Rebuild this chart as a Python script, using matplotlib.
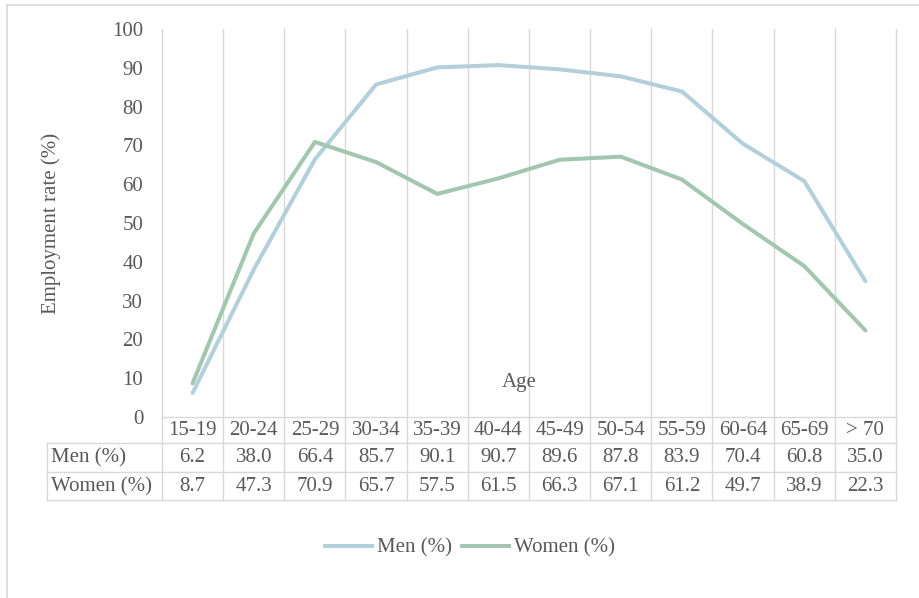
import matplotlib.pyplot as plt
from matplotlib.lines import Line2D

# Data
age_groups = ['15-19', '20-24', '25-29', '30-34', '35-39', '40-44',
              '45-49', '50-54', '55-59', '60-64', '65-69', '> 70']
men = [6.2, 38.0, 66.4, 85.7, 90.1, 90.7, 89.6, 87.8, 83.9, 70.4, 60.8, 35.0]
women = [8.7, 47.3, 70.9, 65.7, 57.5, 61.5, 66.3, 67.1, 61.2, 49.7, 38.9, 22.3]
yticks = [0, 10, 20, 30, 40, 50, 60, 70, 80, 90, 100]

men_color = '#B2CFDA'
women_color = '#A2C6AF'
grid_color = '#D9D9D9'
text_color = '#595959'
fs = 15

plt.rcParams['font.family'] = ['Liberation Serif', 'DejaVu Serif']
plt.rcParams['font.size'] = fs

W, H = 920, 598
fig = plt.figure(figsize=(W / 100, H / 100), dpi=100)

# plot area in pixels: x 162..896, y 29..417
left, right, top, bottom = 162, 896, 29, 417
ax = fig.add_axes([left / W, 1 - bottom / H, (right - left) / W, (bottom - top) / H])

x = list(range(len(age_groups)))
ax.plot(x, men, color=men_color, linewidth=2.9, solid_capstyle='round', zorder=3)
ax.plot(x, women, color=women_color, linewidth=2.9, solid_capstyle='round', zorder=3)

ax.set_xlim(-0.5, len(age_groups) - 0.5)
ax.set_ylim(0, 100)
ax.set_yticks(yticks)
ax.set_xticks([])
ax.tick_params(axis='y', length=0, pad=13.5, labelcolor=text_color, labelsize=fs)
for s in ax.spines.values():
    s.set_visible(False)


# table geometry in axes coordinates
h_px = bottom - top
def ay(py):
    return (bottom - py) / h_px

def ax_x(px):
    return (px - left) / (right - left)

ax.set_ylabel('Employment rate (%)', color=text_color, fontsize=fs, va='center')
ax.yaxis.set_label_coords(ax_x(51), 0.5)

row_lines = [443, 472, 500]
table_bottom = ay(500)
label_left = ax_x(47)

# vertical grid lines running through the table
for k in range(len(age_groups) + 1):
    ax.plot([k - 0.5, k - 0.5], [1.0, table_bottom], transform=ax.get_xaxis_transform(),
            color=grid_color, linewidth=1.0, clip_on=False, zorder=1)

# horizontal table lines
ax.plot([0, 1], [0, 0], transform=ax.transAxes, color=grid_color, linewidth=1.0,
        clip_on=False, zorder=1)
for py in row_lines:
    ax.plot([label_left, 1], [ay(py), ay(py)], transform=ax.transAxes,
            color=grid_color, linewidth=1.0, clip_on=False, zorder=1)
ax.plot([label_left, label_left], [ay(443), table_bottom], transform=ax.transAxes,
        color=grid_color, linewidth=1.0, clip_on=False, zorder=1)

tr = ax.get_xaxis_transform()
row_y = [ay(430.5), ay(458), ay(486.5)]
for i, g in enumerate(age_groups):
    ax.text(i, row_y[0], g, transform=tr, ha='center', va='center', color=text_color)
    ax.text(i, row_y[1], f'{men[i]:.1f}', transform=tr, ha='center', va='center', color=text_color)
    ax.text(i, row_y[2], f'{women[i]:.1f}', transform=tr, ha='center', va='center', color=text_color)
ax.text(ax_x(51), row_y[1], 'Men (%)', transform=ax.transAxes, ha='left', va='center', color=text_color)
ax.text(ax_x(51), row_y[2], 'Women (%)', transform=ax.transAxes, ha='left', va='center', color=text_color)

# axis title sitting inside the plot, as in the original
ax.text(ax_x(519), ay(382), 'Age', transform=ax.transAxes, ha='center', va='center',
        color=text_color, fontsize=fs)

# legend
handles = [Line2D([], [], color=men_color, linewidth=2.9),
           Line2D([], [], color=women_color, linewidth=2.9)]
fig.legend(handles, ['Men (%)', 'Women (%)'], loc='center', bbox_to_anchor=(470 / W, 1 - 548 / H),
           ncol=2, frameon=False, handlelength=2.25, handletextpad=0.25, columnspacing=0.5,
           labelcolor=text_color, fontsize=fs)

# outer chart border (top and left visible)
fig.add_artist(Line2D([7 / W, 1], [1 - 5 / H, 1 - 5 / H], color=grid_color, linewidth=1.2))
fig.add_artist(Line2D([7 / W, 7 / W], [1 - 5 / H, 0], color=grid_color, linewidth=1.2))

fig.savefig('out.png', dpi=100)
